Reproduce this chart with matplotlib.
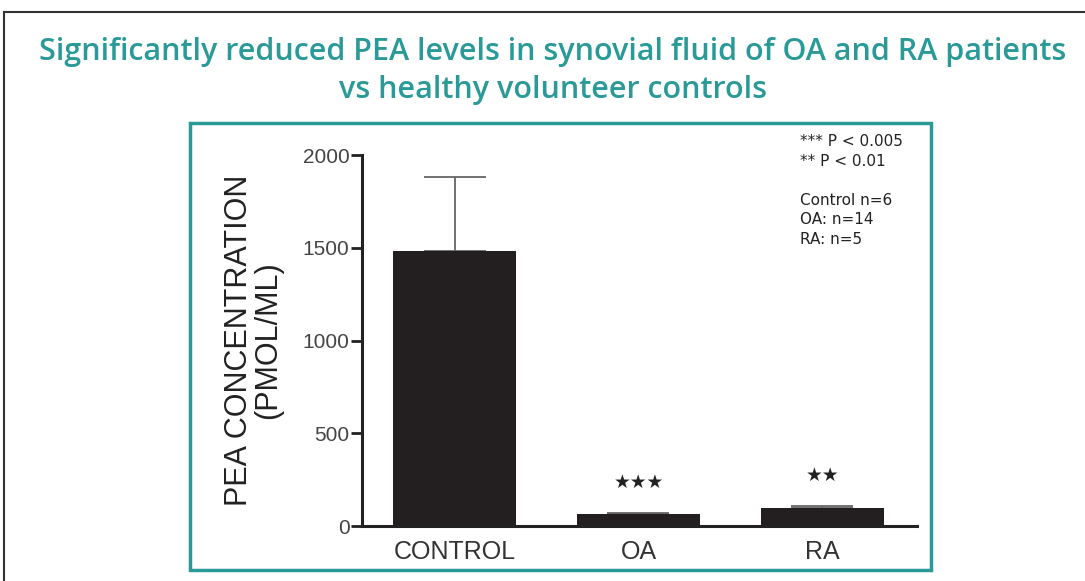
import matplotlib
matplotlib.use("Agg")
import matplotlib.pyplot as plt
from matplotlib.patches import Rectangle
from matplotlib.lines import Line2D

# ── data ──────────────────────────────────────────────────────────────────────
groups = ["CONTROL", "OA", "RA"]
means = [1482, 65, 97]
sem = [400, 5, 11]
stars = ["", "★★★", "★★"]
notes = ["*** P < 0.005", "** P < 0.01", "", "Control n=6", "OA: n=14", "RA: n=5"]

TEAL = "#2a9a98"
TITLE = ("Significantly reduced PEA levels in synovial fluid of OA and RA patients\n"
         "vs healthy volunteer controls")

W, H = 1085, 581
fig = plt.figure(figsize=(W / 100, H / 100), dpi=100)

# slide frame (black, top + left) and teal panel box
fig.add_artist(Line2D([4 / W, 1], [1 - 12 / H, 1 - 12 / H], color="#333333", lw=1.5))
fig.add_artist(Line2D([4 / W, 4 / W], [0, 1 - 12 / H], color="#333333", lw=1.5))
fig.add_artist(Rectangle((190 / W, 1 - 570 / H), (931 - 190) / W, (570 - 123) / H,
                         fill=False, edgecolor=TEAL, lw=2.5))

fig.text(553 / W, 1 - 71 / H, TITLE, ha="center", va="center", color=TEAL,
         fontsize=22, fontweight="semibold", family="Open Sans", linespacing=1.33)

ax = fig.add_axes([362 / W, 1 - 526 / H, 555 / W, 371 / H])
x = list(range(len(groups)))
ax.bar(x, means, width=0.67, color="#231f20", zorder=2)
ax.errorbar(x, means, yerr=[[0] * len(sem), sem], fmt="none", ecolor="#666666",
            elinewidth=1.3, capsize=22, capthick=1.3, zorder=1)
for xi, m, s, st in zip(x, means, sem, stars):
    if st:
        ax.text(xi, m + s + 165, st, ha="center", va="center", fontsize=13.5,
                color="#222222", family="DejaVu Sans")

ax.set_xlim(-0.505, 2.516)
ax.set_ylim(0, 2000)
ax.set_yticks([0, 500, 1000, 1500, 2000])
ax.set_xticks(x)
ax.set_xticklabels(groups, fontsize=18, family="Liberation Sans", color="#333333")
ax.tick_params(axis="y", labelsize=15, length=8, width=2, colors="#222222", pad=1)
ax.tick_params(axis="x", length=0, pad=10)
for lab in ax.get_yticklabels():
    lab.set_family("Liberation Sans")
    lab.set_color("#444444")
for s in ["top", "right"]:
    ax.spines[s].set_visible(False)
for s in ["left", "bottom"]:
    ax.spines[s].set_linewidth(2.2)
    ax.spines[s].set_color("#222222")
ax.set_ylabel("PEA CONCENTRATION\n(PMOL/ML)", fontsize=22, family="Liberation Sans",
              color="#222222", labelpad=14, linespacing=0.95)

fig.text(800 / W, 1 - 134 / H, "\n".join(notes), ha="left", va="top", fontsize=11,
         color="#222222", family="DejaVu Sans", linespacing=1.38)

fig.savefig("out.png", dpi=100)
